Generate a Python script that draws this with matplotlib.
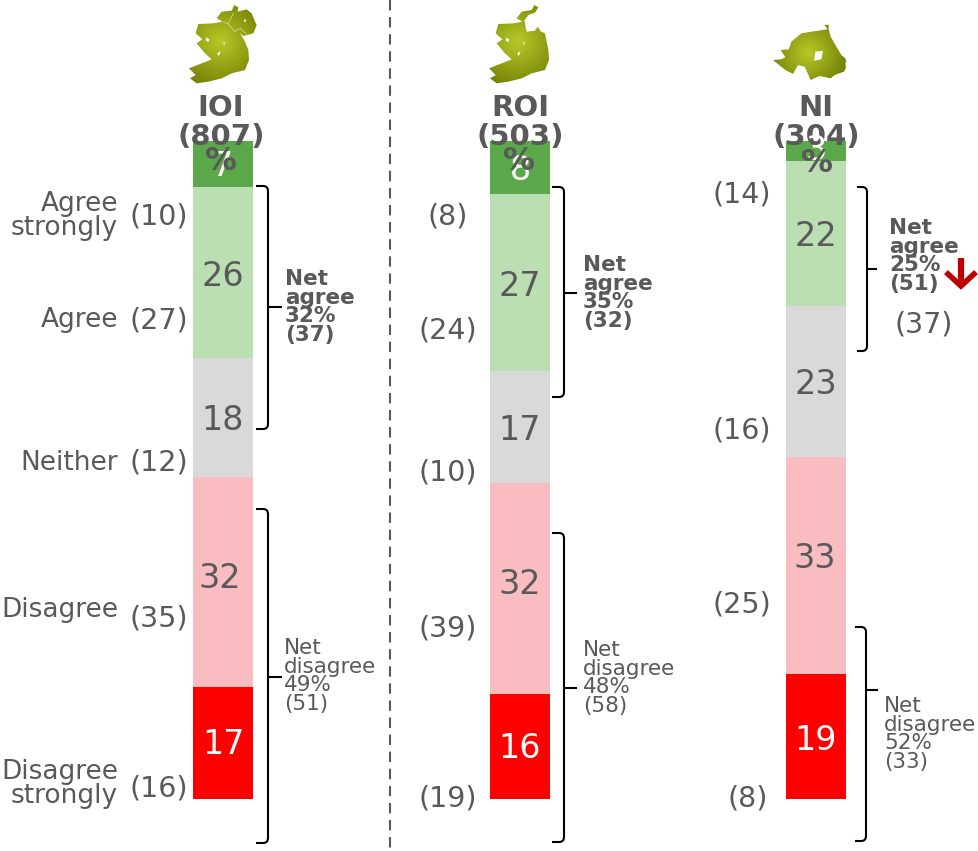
import numpy as np
import matplotlib
matplotlib.use("Agg")
import matplotlib.pyplot as plt
from matplotlib.patches import PathPatch, Polygon
from matplotlib.path import Path

W, H = 979, 851

# shares per region, top of the stack first
regions = ["IOI", "ROI", "NI"]
bases = ["(807)", "(503)", "(304)"]
ioi_vals = [7, 26, 18, 32, 17]
roi_vals = [8, 27, 17, 32, 16]
ni_vals = [3, 22, 23, 33, 19]
seg_colors = ["#5BA84B", "#BBDEB3", "#D9D9D9", "#F8BCC1", "#FF0000"]
num_colors = ["white", "#595959", "#595959", "#595959", "white"]
row_labels = ["Agree\nstrongly", "Agree", "Neither", "Disagree", "Disagree\nstrongly"]
ioi_prev = ["(10)", "(27)", "(12)", "(35)", "(16)"]
roi_prev = ["(8)", "(24)", "(10)", "(39)", "(19)"]
ni_prev = ["(14)", "(37)", "(16)", "(25)", "(8)"]
net_agree = [("32%", "(37)"), ("35%", "(32)"), ("25%", "(51)")]
net_disagree = [("49%", "(51)"), ("48%", "(58)"), ("52%", "(33)")]

GREY = "#595959"
bar_left = [193, 490, 786]
bar_w = 60
px_top, px_base = 141, 799   # pixel rows of 100 and 0 on the value axis
unit = (px_base - px_top) / 100.0

fig = plt.figure(figsize=(W / 100, H / 100), dpi=100)

# value axis for the stacks: x in pixels, y in percent
ax = fig.add_axes([0, 0, 1, 1])
ax.set_xlim(0, W)
ax.set_ylim(-(H - px_base) / unit, px_base / unit)
ax.axis("off")

for left, vals in zip(bar_left, [ioi_vals, roi_vals, ni_vals]):
    bottom = 100 - np.cumsum(vals)
    ax.bar(left, vals, bottom=bottom, width=bar_w, align="edge", color=seg_colors, linewidth=0)

# overlay in pixel coordinates for the annotations
ov = fig.add_axes([0, 0, 1, 1])
ov.set_xlim(0, W)
ov.set_ylim(H, 0)
ov.axis("off")
ov.patch.set_alpha(0)


def txt(x, y, s, size, ha="center", color=GREY, weight="normal", ls=0.9, z=5):
    ov.text(x, y, s, fontsize=size, ha=ha, va="center", color=color, weight=weight,
            linespacing=ls, zorder=z, family="DejaVu Sans")


def bracket(x0, x1, y0, y1, ymid, xtick):
    r = 5
    verts = [(x0, y0), (x1 - r, y0), (x1, y0), (x1, y0 + r), (x1, y1 - r), (x1, y1), (x1 - r, y1), (x0, y1)]
    codes = [Path.MOVETO, Path.LINETO, Path.CURVE3, Path.CURVE3, Path.LINETO, Path.CURVE3, Path.CURVE3, Path.LINETO]
    ov.add_patch(PathPatch(Path(verts, codes), fill=False, ec="black", lw=1.5))
    ov.plot([x1, xtick], [ymid, ymid], color="black", lw=1.5, solid_capstyle="butt")


def blob(outline, holes, x_off, y_off, cx, cy, rad, seams=()):
    # radial olive shading clipped to the outline, traced at 3x
    pts = np.array(outline, float) / 3.0 + [x_off, y_off]
    xs = np.linspace(pts[:, 0].min() - 2, pts[:, 0].max() + 2, 120)
    ys = np.linspace(pts[:, 1].min() - 2, pts[:, 1].max() + 2, 120)
    xx, yy = np.meshgrid(xs, ys)
    t = np.clip(np.hypot(xx - cx, yy - cy) / rad, 0, 1)[..., None]
    rgb = (1 - t) * np.array([0.72, 0.79, 0.16]) + t * np.array([0.42, 0.46, 0.0])
    im = ov.imshow(rgb, extent=(xs[0], xs[-1], ys[-1], ys[0]), aspect="auto", zorder=2, interpolation="bilinear")
    poly = Polygon(pts, closed=True, transform=ov.transData, fc="none", ec="none")
    ov.add_patch(poly)
    im.set_clip_path(poly)
    for h in holes:
        ov.add_patch(Polygon(np.array(h, float) / 3.0 + [x_off, y_off], closed=True, fc="white", ec="none", zorder=3))
    for s in seams:
        p = np.array(s, float) / 3.0 + [x_off, y_off]
        ov.plot(p[:, 0], p[:, 1], color="#E8ECB8", lw=0.4, zorder=3)


# shared south and west coast of the two island shapes
south_west = [(190, 150), (192, 180), (180, 210), (140, 220), (110, 235), (70, 245), (35, 250), (15, 235), (32, 225),
              (12, 205), (50, 190), (80, 178), (60, 160), (35, 130), (52, 118), (32, 100), (40, 72), (85, 70),
              (112, 65)]
ireland = [(95, 55), (110, 35), (140, 32), (148, 15), (160, 22), (158, 35), (185, 28), (200, 40), (210, 65), (215, 75),
           (205, 100), (175, 108), (165, 100), (180, 125)] + south_west
ireland_holes = [[(64, 113), (73, 118), (70, 126), (62, 121)], [(115, 126), (120, 128), (117, 137)],
                 [(97, 160), (107, 154), (101, 168)], [(176, 61), (184, 57), (180, 68)]]
ireland_seams = [[(115, 65), (130, 72), (150, 95), (165, 85), (185, 102)], [(145, 40), (130, 70)]]
republic = [(95, 55), (110, 35), (140, 30), (148, 15), (160, 22), (150, 38), (130, 45), (118, 62), (125, 95),
            (150, 92), (158, 80), (168, 95), (180, 100)] + south_west
north = [(170, 15), (182, 14), (182, 28), (188, 50), (205, 80), (220, 105), (232, 115), (238, 135), (228, 155),
         (200, 165), (188, 175), (155, 168), (128, 180), (110, 140), (90, 135), (75, 162), (52, 150), (15, 120),
         (40, 118), (52, 112), (38, 90), (62, 88), (70, 65), (100, 40), (130, 35), (165, 30), (178, 28)]
north_holes = [[(142, 95), (165, 92), (160, 118), (138, 122)], [(232, 125), (240, 130), (238, 145), (233, 140)]]

blob(ireland, ireland_holes, 185, 0, 220, 42, 55, ireland_seams)
blob(republic, ireland_holes[:3], 485, 0, 518, 42, 55)
blob(north, north_holes, 768, 20, 808, 53, 45)

# divider
ov.plot([390, 390], [0, H], color=GREY, lw=1.5, dashes=(5, 3.2))

# region headers, the bars and % sign sit over them
for x, name, n in zip([221, 520, 816], regions, bases):
    txt(x, 108, name, 21, weight="bold")
    txt(x, 137, n, 21, weight="bold")

# numbers inside the stacks
num_xy = [[(222, 166), (223, 276), (223, 420), (220, 578), (224, 745)],
          [(520, 170), (520, 286), (520, 430), (520, 585), (520, 749)],
          [(816, 150), (816, 236), (816, 384), (815, 559), (816, 740)]]
for pos, vals in zip(num_xy, [ioi_vals, roi_vals, ni_vals]):
    for (x, y), v, c in zip(pos, vals, num_colors):
        txt(x, y, str(v), 24, color=c)
for x, y in [(221, 161), (519, 161), (817, 163)]:
    txt(x, y, "%", 23, weight="bold", z=6)

# row labels and previous wave figures
for y, s in zip([216, 320, 463, 610, 784], row_labels):
    txt(118, y, s, 19, ha="right")
prev_xy = [[(159, 217), (159, 320), (159, 463), (159, 619), (159, 788)],
           [(448, 217), (448, 330), (448, 472), (448, 629), (448, 799)],
           [(742, 195), (924, 324), (742, 430), (742, 605), (748, 799)]]
for pos, vals in zip(prev_xy, [ioi_prev, roi_prev, ni_prev]):
    for (x, y), s in zip(pos, vals):
        txt(x, y, s, 20.5)

# net brackets
bracket(256, 268, 186, 429, 307, 282)
bracket(256, 268, 509, 843, 677, 282)
bracket(552, 564, 187, 397, 293, 577)
bracket(552, 564, 533, 842, 688, 577)
bracket(857, 867, 187, 351, 269, 877)
bracket(855, 866, 627, 841, 690, 878)

for x, y, (pct, prev) in zip([285, 583, 889], [307, 293, 256], net_agree):
    txt(x, y, "Net\nagree\n" + pct + "\n" + prev, 15.5, ha="left", weight="bold", ls=0.9)
for x, y, (pct, prev) in zip([284, 583, 884], [676, 678, 734], net_disagree):
    txt(x, y, "Net\ndisagree\n" + pct + "\n" + prev, 15.5, ha="left", ls=0.9)

# significant decrease marker
ov.plot([961, 961], [258, 284], color="#C00000", lw=4.5, solid_capstyle="butt")
ov.plot([948, 961, 974], [274, 286, 274], color="#C00000", lw=4, solid_joinstyle="miter")

ov.set_xlim(0, W)
ov.set_ylim(H, 0)
fig.savefig("out.png", dpi=100)
